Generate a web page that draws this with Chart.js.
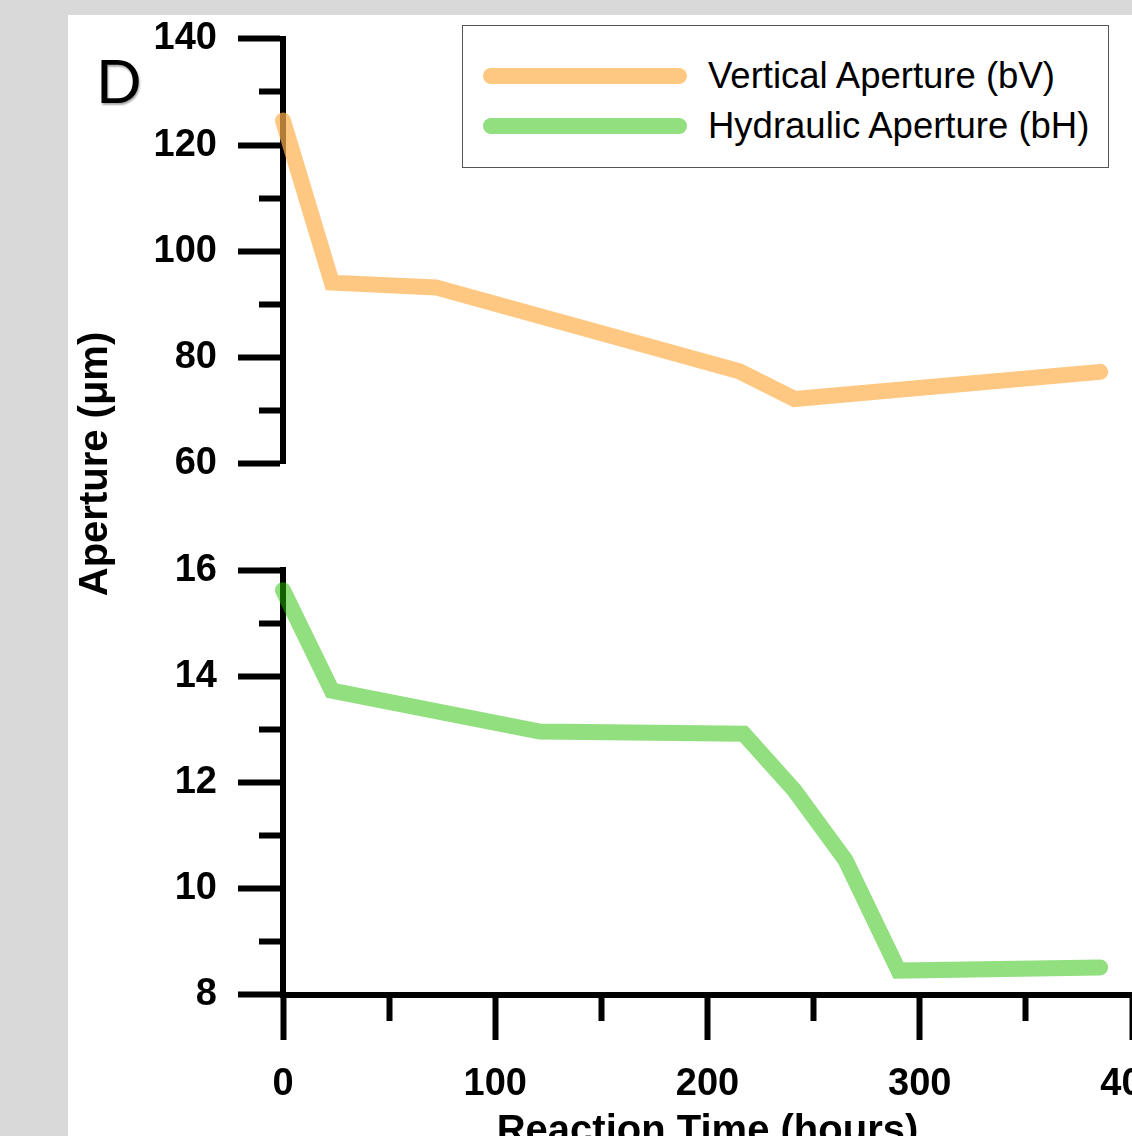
<!DOCTYPE html>
<html>
<head>
<meta charset="utf-8">
<script src="https://cdn.jsdelivr.net/npm/chart.js@4.4.1/dist/chart.umd.min.js"></script>
<style>
  html, body { margin:0; padding:0; width:1132px; height:1136px; overflow:hidden; background:#d9d9d9; }
  #panel { position:absolute; left:68px; top:15px; width:1124px; height:1180px; background:#fff; }
  #c { position:absolute; left:0; top:-20px; }
  #ytitle { position:absolute; left:-173px; top:425px; width:400px; height:48px; line-height:48px; text-align:center;
    font:bold 40px "Liberation Sans", Arial, sans-serif; color:#000; transform:rotate(-90deg); }
  #plabel { position:absolute; left:28px; top:35px; font:60px Lato, "Open Sans", sans-serif; color:#000;
    text-shadow:1px 2px 2px rgba(0,0,0,0.35); line-height:1; }
  #legend { position:absolute; left:394px; top:10px; width:645px; height:141px; border:1px solid #555; background:#fff; }
  .item { position:absolute; left:20px; height:40px; display:flex; align-items:center; }
  .sw { width:204px; height:16px; border-radius:8px; margin-right:21px; }
  .lt { font:36.5px "Liberation Sans", Arial, sans-serif; color:#000; white-space:nowrap; }
</style>
</head>
<body>
<div id="panel">
  <canvas id="c" width="1124" height="1200"></canvas>
  <div id="ytitle"></div>
  <div id="plabel">D</div>
  <div id="legend"></div>
</div>
<script>
// ---- data ----
const timeV = [0, 23, 72, 215, 241, 385];
const apertureV = [124.6, 94.1, 93.2, 77.4, 72.2, 77.3];
const timeH = [0, 23, 121, 217, 241, 265, 290, 385];
const apertureH = [15.62, 13.73, 12.96, 12.92, 11.85, 10.54, 8.46, 8.52];
const labelV = 'Vertical Aperture (bV)';
const labelH = 'Hydraulic Aperture (bH)';
const xTitle = 'Reaction Time (hours)';
const yTitle = 'Aperture (\u03bcm)';
const panelLabel = 'D';
const colorV = 'rgba(255,176,77,0.7)';
const colorH = 'rgba(37,191,1,0.5)';

const tickFont = { family: '"Liberation Sans", Arial, sans-serif', size: 38, weight: 'bold' };
const titleFont = { family: '"Liberation Sans", Arial, sans-serif', size: 40, weight: 'bold' };

function pts(xs, ys) { return xs.map((x, i) => ({ x: x, y: ys[i] })); }

const yFit = s => { s.width = 215; };

function yAxis(min, max, step, labelEvery, weight, stackWeight) {
  return {
    type: 'linear', position: 'left', stack: 'ys', stackWeight: stackWeight, weight: weight,
    min: min, max: max, afterFit: yFit,
    border: { display: true, color: '#000', width: 6 },
    grid: {
      drawOnChartArea: false, drawTicks: true, tickLength: 45, tickColor: '#000', tickWidth: 6,
      tickBorderDash: ctx => (Math.abs(ctx.tick.value % labelEvery) < 1e-9 ? [] : [0, 21, 40])
    },
    ticks: {
      stepSize: step, padding: 21, color: '#000', font: tickFont, autoSkip: false,
      callback: v => (Math.abs(v % labelEvery) < 1e-9 ? String(v) : '')
    }
  };
}

const chart = new Chart(document.getElementById('c'), {
  type: 'line',
  data: {
    datasets: [
      { label: labelV, data: pts(timeV, apertureV), xAxisID: 'x', yAxisID: 'yTop',
        borderColor: colorV, backgroundColor: colorV, borderWidth: 16, pointRadius: 0,
        borderCapStyle: 'round', borderJoinStyle: 'miter', tension: 0, clip: false },
      { label: labelH, data: pts(timeH, apertureH), xAxisID: 'x', yAxisID: 'yBot',
        borderColor: colorH, backgroundColor: colorH, borderWidth: 16, pointRadius: 0,
        borderCapStyle: 'round', borderJoinStyle: 'miter', tension: 0, clip: false }
    ]
  },
  options: {
    responsive: false, animation: false, devicePixelRatio: 1,
    layout: { padding: { left: 0, top: 3, right: 60, bottom: 39 } },
    plugins: { legend: { display: false }, tooltip: { enabled: false } },
    scales: {
      x: {
        type: 'linear', position: 'bottom', min: 0, max: 400,
        afterFit: s => { s.height = 161; },
        border: { display: true, color: '#000', width: 6 },
        grid: {
          drawOnChartArea: false, drawTicks: true, tickLength: 45, tickColor: '#000', tickWidth: 6,
          tickBorderDash: ctx => (ctx.tick.value % 100 === 0 ? [] : [23, 100])
        },
        ticks: { stepSize: 50, padding: 22, color: '#000', font: tickFont, maxRotation: 0, autoSkip: false,
          callback: v => (v % 100 === 0 ? String(v) : '') },
        title: { display: true, text: xTitle, color: '#000', font: titleFont, padding: { top: 0, bottom: 0 } }
      },
      yTop: yAxis(60, 140, 10, 20, 3, 4),
      yGap: {
        type: 'linear', position: 'left', stack: 'ys', stackWeight: 1, weight: 2, min: 0, max: 1,
        afterFit: yFit, border: { display: false }, grid: { display: false, drawTicks: false },
        ticks: { display: false }
      },
      yBot: yAxis(8, 16, 1, 2, 1, 4)
    }
  }
});

document.getElementById('ytitle').textContent = yTitle;
document.getElementById('plabel').textContent = panelLabel;
const lg = document.getElementById('legend');
chart.data.datasets.forEach((ds, i) => {
  const it = document.createElement('div');
  it.className = 'item';
  it.style.top = (30 + i * 50) + 'px';
  const sw = document.createElement('div');
  sw.className = 'sw'; sw.style.background = ds.borderColor;
  const t = document.createElement('span');
  t.className = 'lt'; t.textContent = ds.label;
  it.appendChild(sw); it.appendChild(t); lg.appendChild(it);
});
</script>
</body>
</html>
